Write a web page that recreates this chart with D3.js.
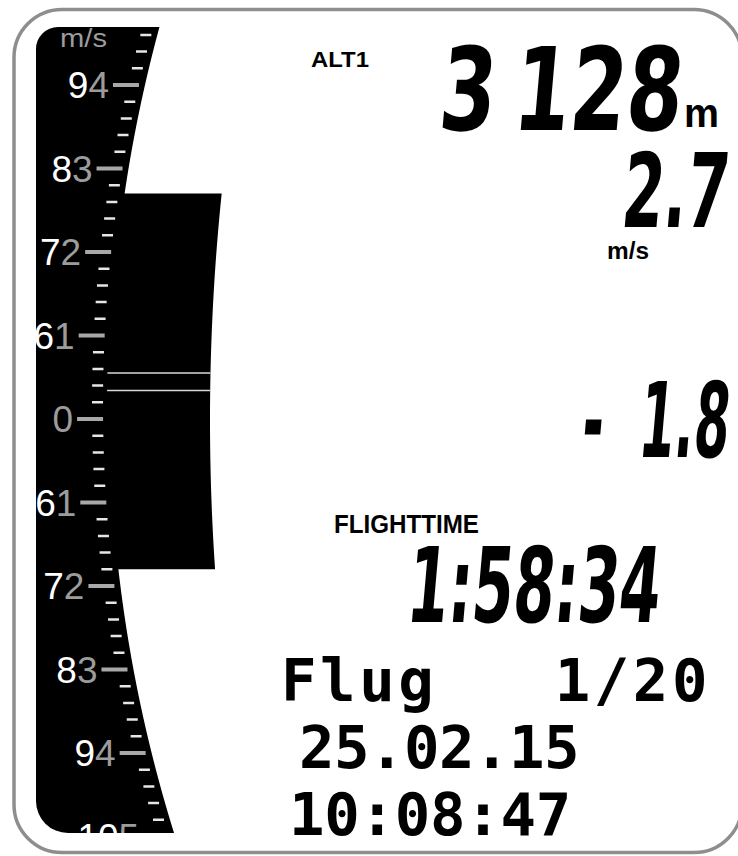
<!DOCTYPE html>
<html>
<head>
<meta charset="utf-8">
<script src="https://cdn.jsdelivr.net/npm/d3@7"></script>
<style>
html, body { margin: 0; padding: 0; background: #fff; }
svg { display: block; }
text { white-space: pre; }
</style>
</head>
<body>
<div id="display"></div>
<script>
'use strict';

// vario scale (m/s) as shown on the left band
var scaleValues = [4, 3, 2, 1, 0, -1, -2, -3, -4, -5];
var scaleLabels = ['94', '83', '72', '61', '0', '61', '72', '83', '94', '105'];
var scaleUnit = 'm/s';
var climbValue = 2.7;
var sinkValue = -1.8;
var averageBand = [0.34, 0.55];

// readouts on the right
var altitudeLabel = 'ALT1';
var altitudeParts = ['3', '128'];
var altitudeUnit = 'm';
var climbText = '2.7';
var varioUnit = 'm/s';
var sinkParts = ['-', '1.8'];
var flightTimeLabel = 'FLIGHTTIME';
var flightTimeText = '1:58:34';
var flightLines = ['Flug   1/20', '25.02.15', '10:08:47'];

var width = 738;
var height = 856;

var lcdFont = '"Liberation Sans Narrow", "DejaVu Sans Condensed", "DejaVu Sans", sans-serif';
var labelFont = '"Liberation Sans", Arial, sans-serif';
var pixelFont = '"DejaVu Sans Mono", "Liberation Mono", monospace';

var panelTop = 27;
var panelBottom = 833;
var panelLeft = 36;

var y = d3.scaleLinear().domain([-5, 4]).range([836.5, 85]);

// curved right edge of the scale band
function arcX(py) {
  var R = 1441;
  return 109 + R - Math.sqrt(R * R - (py - 405) * (py - 405));
}
// curved right edge of the vario bar
function barX(py) {
  var R = 2200;
  return 210 + R - Math.sqrt(R * R - (py - 420) * (py - 420));
}

var svg = d3.select('#display').append('svg')
  .attr('width', width)
  .attr('height', height);

svg.append('rect').attr('width', width).attr('height', height).attr('fill', '#fff');

// outer frame
svg.append('rect')
  .attr('x', 14).attr('y', 9.5)
  .attr('width', 728).attr('height', 843)
  .attr('rx', 48)
  .attr('fill', 'none')
  .attr('stroke', '#8e8e8e')
  .attr('stroke-width', 3.5);

// scale band
var edge = d3.range(panelTop, panelBottom, 4).concat([panelBottom]);
var p = d3.path();
p.moveTo(panelLeft + 22, panelTop);
edge.forEach(function (py) { p.lineTo(arcX(py), py); });
p.lineTo(panelLeft + 32, panelBottom);
p.arcTo(panelLeft, panelBottom, panelLeft, panelBottom - 32, 32);
p.lineTo(panelLeft, panelTop + 22);
p.arcTo(panelLeft, panelTop, panelLeft + 22, panelTop, 22);
p.closePath();

svg.append('clipPath').attr('id', 'panelClip').append('path').attr('d', p.toString());
svg.append('path').attr('d', p.toString()).attr('fill', '#000');

// vario bar from sink to climb
var barTop = y(climbValue);
var barBottom = y(sinkValue);
var barYs = d3.range(barTop, barBottom, 3).concat([barBottom]);
var barPts = barYs.map(function (py) { return [barX(py), py]; })
  .concat(barYs.slice().reverse().map(function (py) { return [arcX(py) - 4, py]; }));
svg.append('path')
  .attr('d', d3.line()(barPts) + 'Z')
  .attr('fill', '#000');

svg.selectAll('line.avg')
  .data(averageBand)
  .join('line')
  .attr('class', 'avg')
  .attr('x1', function (d) { return arcX(y(d)) - 2; })
  .attr('x2', function (d) { return barX(y(d)); })
  .attr('y1', function (d) { return y(d); })
  .attr('y2', function (d) { return y(d); })
  .attr('stroke', '#d8d8d8')
  .attr('stroke-width', 1.5);

var scaleG = svg.append('g').attr('clip-path', 'url(#panelClip)');

var tickValues = d3.range(-25, 24).map(function (i) { return i / 5; });
function isMajor(v) { return Math.abs(v - Math.round(v)) < 1e-6; }

scaleG.selectAll('line.tick')
  .data(tickValues)
  .join('line')
  .attr('class', 'tick')
  .attr('x1', function (d) { return arcX(y(d)) - (isMajor(d) ? 32 : 17); })
  .attr('x2', function (d) { return arcX(y(d)) - 6; })
  .attr('y1', function (d) { return y(d); })
  .attr('y2', function (d) { return y(d); })
  .attr('stroke', function (d) { return isMajor(d) ? '#a8a8a8' : '#e6e6e6'; })
  .attr('stroke-width', function (d) { return isMajor(d) ? 4 : 2.5; });

var labelSel = scaleG.selectAll('text.label')
  .data(scaleValues)
  .join('text')
  .attr('class', 'label')
  .attr('x', function (d) { return arcX(y(d)) - 36; })
  .attr('y', function (d) { return y(d) + 13; })
  .attr('text-anchor', 'end')
  .attr('font-family', labelFont)
  .attr('font-size', 37);
labelSel.append('tspan')
  .attr('fill', '#fff')
  .text(function (d, i) { return scaleLabels[i].slice(0, -1); });
labelSel.append('tspan')
  .attr('fill', '#9c9c9c')
  .text(function (d, i) { return scaleLabels[i].slice(-1); });

// fits a text between x0 and x1 on a baseline
function fitText(parts, opt) {
  var t = svg.append('text')
    .attr('font-family', opt.family)
    .attr('font-size', opt.size)
    .attr('font-weight', opt.weight || 'normal')
    .attr('fill', opt.fill || '#000');
  parts.forEach(function (s) { t.append('tspan').text(s); });
  var gap = opt.gap || 0;
  var box = t.node().getBBox();
  var sx = (opt.x1 - opt.x0 - gap) / box.width;
  if (gap) {
    t.selectAll('tspan').filter(function (d, i) { return i === 1; }).attr('dx', gap / sx);
  }
  t.attr('transform', 'translate(' + (opt.x0 - box.x * sx) + ',' + opt.baseline + ') skewX(' + (opt.skew || 0) + ') scale(' + sx + ',1)');
  return t;
}

fitText([scaleUnit], { x0: 60, x1: 107, baseline: 47, size: 26, family: labelFont, fill: '#9c9c9c' });

fitText([altitudeLabel], { x0: 311, x1: 369, baseline: 67, size: 22, family: labelFont, weight: 'bold' });
fitText(altitudeParts, { x0: 437, x1: 680, baseline: 130, size: 83 / 0.72, family: lcdFont, weight: 'bold', skew: -5, gap: 18 });
fitText([altitudeUnit], { x0: 684, x1: 719, baseline: 127, size: 41, family: labelFont, weight: 'bold' });

fitText([climbText], { x0: 620, x1: 726, baseline: 227, size: 74 / 0.72, family: lcdFont, weight: 'bold', skew: -5 });
fitText([varioUnit], { x0: 607, x1: 649, baseline: 259, size: 24, family: labelFont, weight: 'bold' });

fitText(sinkParts, { x0: 580, x1: 727, baseline: 457, size: 75 / 0.72, family: lcdFont, weight: 'bold', skew: -5, gap: 36 });

fitText([flightTimeLabel], { x0: 334, x1: 479, baseline: 533, size: 26, family: labelFont, weight: 'bold' });
fitText([flightTimeText], { x0: 405, x1: 658, baseline: 622, size: 75 / 0.72, family: lcdFont, weight: 'bold', skew: -5 });

// pixel-font block at the bottom: one text, a line per tspan
var blockScale = 1;
var blockSize = 59;
var blockLayout = [
  { x0: 281, x1: 711, baseline: 701 },
  { x0: 299, x1: 579, baseline: 768 },
  { x0: 289, x1: 571, baseline: 835 }
];
var block = svg.append('text')
  .attr('font-family', pixelFont)
  .attr('font-weight', 'bold')
  .attr('font-size', blockSize)
  .attr('fill', '#000')
  .attr('transform', 'scale(' + blockScale + ',1)');
var blockSpans = block.selectAll('tspan')
  .data(flightLines)
  .join('tspan')
  .attr('x', function (d, i) { return blockLayout[i].x0 / blockScale; })
  .attr('y', function (d, i) { return blockLayout[i].baseline; })
  .text(function (d) { return d; });
blockSpans.each(function (d, i) {
  var natural = this.getComputedTextLength();
  var target = (blockLayout[i].x1 - blockLayout[i].x0) / blockScale;
  d3.select(this).attr('letter-spacing', (target - natural) / d.length);
});
</script>
</body>
</html>
